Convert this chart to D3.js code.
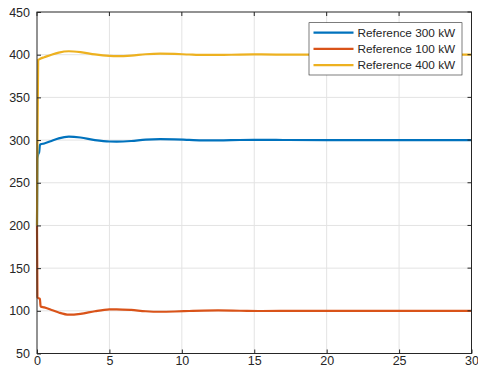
<!DOCTYPE html>
<html>
<head>
<meta charset="utf-8">
<script src="https://cdn.jsdelivr.net/npm/d3@7"></script>
<style>
  html, body { margin: 0; padding: 0; background: #fff; }
  svg { display: block; font-family: "Liberation Sans", Arial, Helvetica, sans-serif; }
</style>
</head>
<body>
<svg id="chart" width="478" height="378"></svg>
<script>
// Time samples (s)
const time = [0, 0.03, 0.08, 0.15, 0.2, 0.25, 0.5, 1, 1.5, 2.2, 3, 4, 5, 5.5, 6.5, 7.5, 8.5, 9.5, 10.5, 11.5, 12.5, 14, 15.5, 17, 20, 25, 30];

// Power response for each reference (kW)
const ref300 = [200, 278, 283, 286, 294, 295, 296, 299, 302, 304, 303, 300, 298.3, 298.2, 298.9, 300.5, 301, 300.8, 300.2, 299.7, 299.7, 300.1, 300.3, 300.1, 300, 300, 300];
const ref100 = [200, 116, 115, 114.5, 114, 105, 104, 101, 98, 95.5, 96.5, 99.5, 101.6, 101.8, 101, 99.5, 98.9, 99.2, 99.8, 100.3, 100.4, 100.1, 99.8, 99.9, 100, 100, 100];
const ref400 = [200, 300, 394, 394.5, 395, 395.5, 397, 400, 402.5, 404, 403, 400.3, 398.6, 398.3, 398.9, 400.5, 401.2, 400.9, 400.2, 399.7, 399.7, 400.1, 400.3, 400.1, 400, 400, 400];

const seriesNames = ["Reference 300 kW", "Reference 100 kW", "Reference 400 kW"];
const seriesColors = ["#0072BD", "#D95319", "#EDB120"];
const xTicks = [0, 5, 10, 15, 20, 25, 30];
const yTicks = [50, 100, 150, 200, 250, 300, 350, 400, 450];

const W = 478, H = 378;
const margin = { top: 12, right: 6.5, bottom: 24.5, left: 37 };
const iw = W - margin.left - margin.right;
const ih = H - margin.top - margin.bottom;

const svg = d3.select("#chart");
const g = svg.append("g").attr("transform", `translate(${margin.left},${margin.top})`);

const x = d3.scaleLinear().domain([0, 30]).range([0, iw]);
const y = d3.scaleLinear().domain([50, 450]).range([ih, 0]);

// grid
g.append("g").selectAll("line.vg").data(xTicks.slice(1, -1)).join("line")
  .attr("x1", d => x(d)).attr("x2", d => x(d)).attr("y1", 0).attr("y2", ih)
  .attr("stroke", "#e3e3e3").attr("stroke-width", 1);
g.append("g").selectAll("line.hg").data(yTicks.slice(1, -1)).join("line")
  .attr("x1", 0).attr("x2", iw).attr("y1", d => y(d)).attr("y2", d => y(d))
  .attr("stroke", "#e3e3e3").attr("stroke-width", 1);

// series
const data = [ref300, ref100, ref400];
const line = d3.line()
  .x((d, i) => x(time[i]))
  .y(d => y(d))
  .curve(d3.curveMonotoneX);

g.append("g").selectAll("path").data(data).join("path")
  .attr("d", d => line(d))
  .attr("fill", "none")
  .attr("stroke", (d, i) => seriesColors[i])
  .attr("stroke-width", 2.2)
  .attr("stroke-linejoin", "round");

// axes
const axisColor = "#262626";
const xAxis = g.append("g").attr("transform", `translate(0,${ih})`)
  .call(d3.axisBottom(x).tickValues(xTicks).tickSize(-4).tickPadding(3).tickFormat(d3.format("d")));
const yAxis = g.append("g")
  .call(d3.axisLeft(y).tickValues(yTicks).tickSize(-4).tickPadding(7).tickFormat(d3.format("d")));
[xAxis, yAxis].forEach(a => {
  a.select(".domain").remove();
  a.selectAll("line").attr("stroke", axisColor);
  a.selectAll("text").attr("fill", axisColor).style("font-size", "12.5px")
    .style("font-family", "'Liberation Sans', Arial, sans-serif");
});
// top/right ticks
g.append("g").selectAll("line").data(xTicks).join("line")
  .attr("x1", d => x(d)).attr("x2", d => x(d)).attr("y1", 0).attr("y2", 4).attr("stroke", axisColor);
g.append("g").selectAll("line").data(yTicks).join("line")
  .attr("x1", iw).attr("x2", iw - 4).attr("y1", d => y(d)).attr("y2", d => y(d)).attr("stroke", axisColor);

// box
g.append("rect").attr("x", 0).attr("y", 0).attr("width", iw).attr("height", ih)
  .attr("fill", "none").attr("stroke", axisColor).attr("stroke-width", 1);

// legend
const lg = svg.append("g").attr("transform", "translate(309,22.7)");
lg.append("rect").attr("width", 153).attr("height", 52.3)
  .attr("fill", "#fff").attr("stroke", axisColor).attr("stroke-width", 0.6);
seriesNames.forEach((name, i) => {
  const yy = 10 + i * 16.2;
  lg.append("line").attr("x1", 4.5).attr("x2", 44.5).attr("y1", yy).attr("y2", yy)
    .attr("stroke", seriesColors[i]).attr("stroke-width", 2.2);
  lg.append("text").attr("x", 48.5).attr("y", yy).attr("dy", "0.35em")
    .attr("fill", axisColor).style("font-size", "11.8px").text(name);
});
</script>
</body>
</html>
